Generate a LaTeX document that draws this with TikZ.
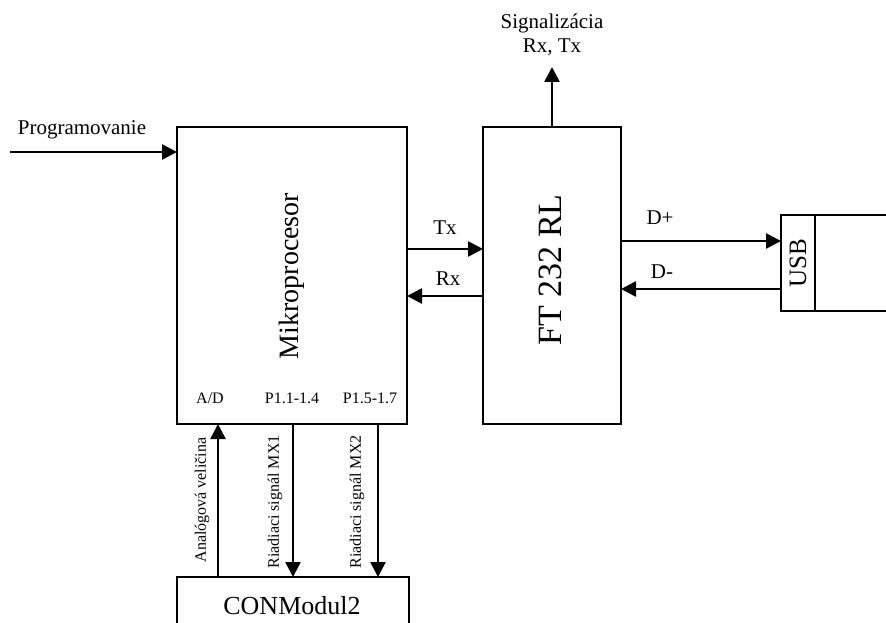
\documentclass[tikz,border=0pt]{standalone}
\usepackage{fontspec}
\setmainfont{Liberation Serif}
\usetikzlibrary{arrows.meta}
\begin{document}
\begin{tikzpicture}[x=1pt,y=-1pt,
  box/.style={draw,line width=1.9pt,inner sep=0pt,outer sep=0pt,minimum width=#1},
  arr/.style={line width=2.6pt,-{Triangle[length=15pt,width=15pt]}},
  big/.style={font=\fontsize{21}{24}\selectfont},
  small/.style={font=\fontsize{16}{18}\selectfont},
  lab/.style={inner sep=0pt}]
\useasboundingbox (0,0) rectangle (886,623);
% boxes
\node[box=230pt,minimum height=297pt] (mp) at (292,275.5) {};
\node[box=138pt,minimum height=297pt] (ft) at (552,275.5) {};
\node[box=232pt,minimum height=70pt] (con) at (293,612) {};
\node[box=34pt,minimum height=96pt] (usb) at (798,263) {};
\node[box=90pt,minimum height=96pt,anchor=west] (usbr) at (usb.east) {};
% texts in boxes
\node[lab,rotate=90,font=\fontsize{28}{30}\selectfont] (tmp) at (292,276) {Mikroprocesor};
\node[lab,rotate=90,font=\fontsize{34}{36}\selectfont] (tft) at (550,270) {FT 232 RL};
\node[lab,rotate=90,font=\fontsize{25}{27}\selectfont] (tusb) at (798,263) {USB};
\node[lab,font=\fontsize{26}{28}\selectfont] (tcon) at (292,606) {CONModul2};
\node[lab,small] (ad) at (210,398) {A/D};
\node[lab,small] (p1) at (292,398) {P1.1-1.4};
\node[lab,small] (p2) at (370,398) {P1.5-1.7};
% coordinates
\coordinate (prog) at (10,152);
\coordinate (sig) at (552,67);
\coordinate (tx) at (0,249);
\coordinate (rx) at (0,296);
\coordinate (dp) at (0,241);
\coordinate (dm) at (0,289);
\coordinate (xa) at (218,0);
\coordinate (x1) at (293,0);
\coordinate (x2) at (378,0);
% arrows
\draw[arr] (prog) -- (prog -| mp.west);
\draw[arr] (ft.north -| sig) -- (sig);
\draw[arr] (mp.east |- tx) -- (ft.west |- tx);
\draw[arr] (ft.west |- rx) -- (mp.east |- rx);
\draw[arr] (ft.east |- dp) -- (usb.west |- dp);
\draw[arr] (usb.west |- dm) -- (ft.east |- dm);
\draw[arr] (con.north -| xa) -- (mp.south -| xa);
\draw[arr] (mp.south -| x1) -- (con.north -| x1);
\draw[arr] (mp.south -| x2) -- (con.north -| x2);
% labels
\node[lab,big] (lprog) at (82,130) {Programovanie};
\node[lab,big,align=center] (lsig) at (552,35) {Signalizácia\\Rx, Tx};
\node[lab,big] (ltx) at (445,228) {Tx};
\node[lab,big] (lrx) at (448,279) {Rx};
\node[lab,big] (ldp) at (660,218) {D+};
\node[lab,big] (ldm) at (662,272) {D-};
\node[lab,small,rotate=90] (lan) at (202,500) {Analógová veličina};
\node[lab,small,rotate=90] (lm1) at (275,502) {Riadiaci signál MX1};
\node[lab,small,rotate=90] (lm2) at (357,502) {Riadiaci signál MX2};
\end{tikzpicture}
\end{document}
